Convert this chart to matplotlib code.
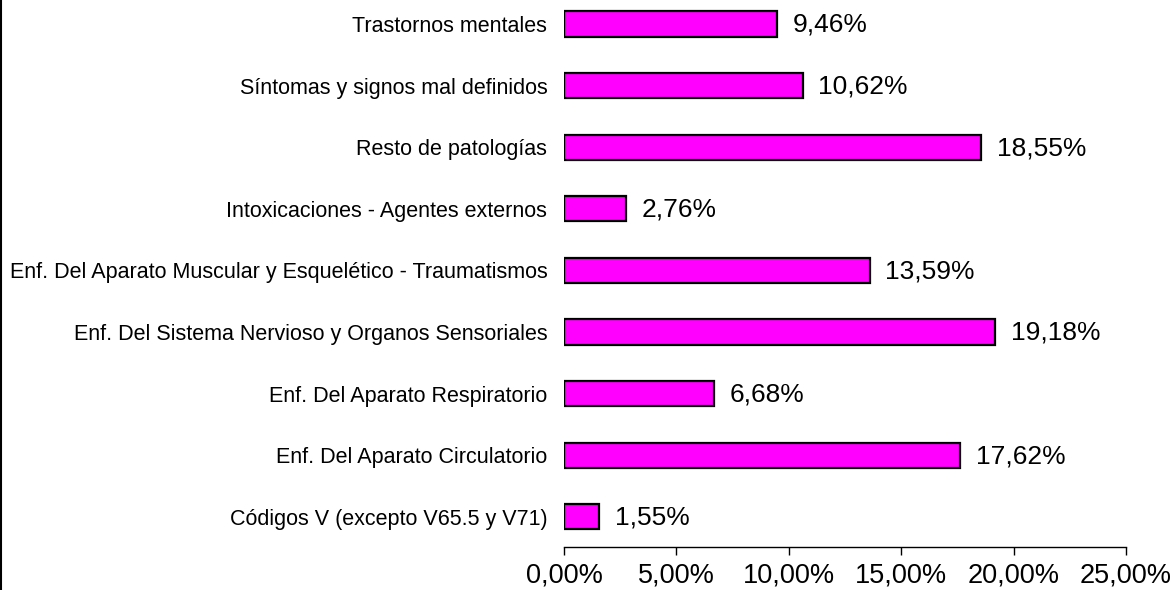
import matplotlib
matplotlib.use('Agg')
import matplotlib.pyplot as plt
from matplotlib.lines import Line2D

plt.rcParams['font.family'] = ['Liberation Sans', 'DejaVu Sans']

categorias = [
    'Trastornos mentales',
    'Síntomas y signos mal definidos',
    'Resto de patologías',
    'Intoxicaciones - Agentes externos',
    'Enf. Del Aparato Muscular y Esquelético - Traumatismos',
    'Enf. Del Sistema Nervioso y Organos Sensoriales',
    'Enf. Del Aparato Respiratorio',
    'Enf. Del Aparato Circulatorio',
    'Códigos V (excepto V65.5 y V71)',
]
porcentajes = [9.46, 10.62, 18.55, 2.76, 13.59, 19.18, 6.68, 17.62, 1.55]
ticks_x = [0, 5, 10, 15, 20, 25]

fig = plt.figure(figsize=(11.73, 5.90), dpi=100)
ax = fig.add_axes([564 / 1173, 43 / 590, 562 / 1173, 1 - 43 / 590])

pos = list(range(len(categorias)))[::-1]
ax.barh(pos, porcentajes, height=0.41, color='#FF00FF', edgecolor='black', linewidth=1.6)

for y, v in zip(pos, porcentajes):
    ax.text(v + 0.7, y - 0.015, f'{v:.2f}%'.replace('.', ','), va='center', ha='left', fontsize=19)

ax.set_xlim(0, 25)
ax.set_ylim(-0.49, 8.39)
ax.set_yticks(pos)
ax.set_yticklabels(categorias, fontsize=15.5)
ax.set_xticks(ticks_x)
ax.set_xticklabels([f'{t:.2f}%'.replace('.', ',') for t in ticks_x], fontsize=19.5)

ax.tick_params(axis='y', length=0, pad=12)
ax.tick_params(axis='x', length=6, width=1, direction='out', pad=5)
for s in ['top', 'right', 'left']:
    ax.spines[s].set_visible(False)
ax.spines['bottom'].set_linewidth(1)

# borde izquierdo del area del grafico
fig.add_artist(Line2D([0.5 / 1173, 0.5 / 1173], [0, 1], color='black', linewidth=1.5))

fig.savefig('out.png', dpi=100)
